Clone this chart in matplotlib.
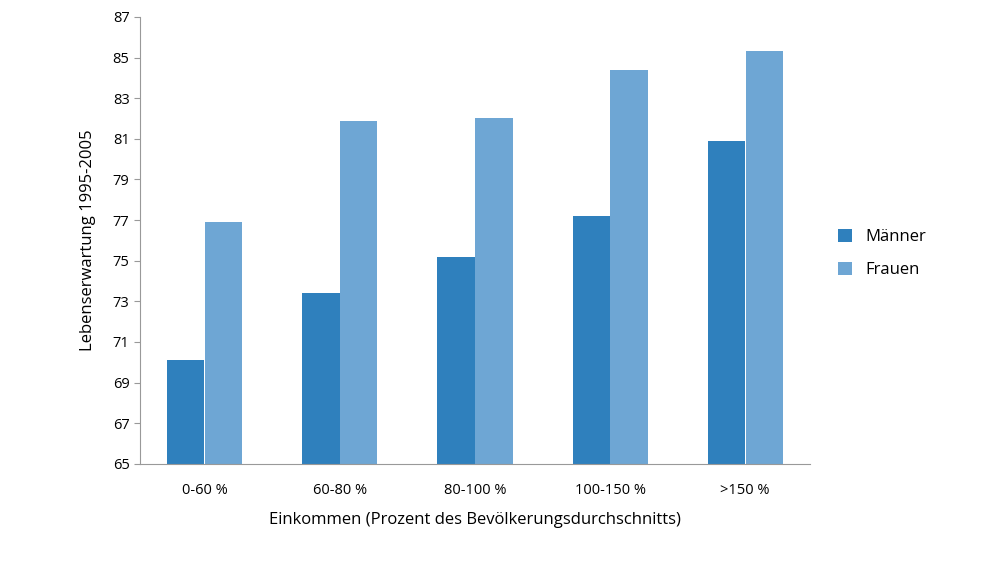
import matplotlib
matplotlib.use("Agg")
import matplotlib.pyplot as plt
import numpy as np

plt.rcParams['font.family'] = ['Open Sans', 'DejaVu Sans']

categories = ["0-60 %", "60-80 %", "80-100 %", "100-150 %", ">150 %"]
maenner = [70.1, 73.4, 75.2, 77.2, 80.9]
frauen = [76.9, 81.9, 82.0, 84.4, 85.3]
yticks = list(range(65, 88, 2))

fig = plt.figure(figsize=(10, 5.63), dpi=100)
ax = fig.add_axes([0.14, 0.176, 0.67, 0.794])
x = np.arange(len(categories))
w = 0.275
ax.bar(x - w/2 - 0.003, np.array(maenner) - 65, w, bottom=65, color="#2f80bd", label="Männer")
ax.bar(x + w/2 + 0.003, np.array(frauen) - 65, w, bottom=65, color="#6ea6d4", label="Frauen")
ax.set_xlim(-0.48, 4.48)
ax.set_ylim(65, 87)
ax.set_yticks(yticks)
ax.set_xticks(x)
ax.set_xticklabels(categories)
ax.tick_params(axis='both', labelsize=10.5, color="#999999", length=4)
ax.tick_params(axis='x', length=0, pad=14)
for s in ['top', 'right']:
    ax.spines[s].set_visible(False)
for s in ['left', 'bottom']:
    ax.spines[s].set_color("#999999")
ax.set_ylabel("Lebenserwartung 1995-2005", fontsize=12, labelpad=12)
ax.set_xlabel("Einkommen (Prozent des Bevölkerungsdurchschnitts)", fontsize=12, labelpad=10)
ax.legend(loc='center left', bbox_to_anchor=(1.02, 0.47), frameon=False, fontsize=12,
          handlelength=0.8, handleheight=0.8, labelspacing=1.0)
fig.savefig("out.png", dpi=100)
